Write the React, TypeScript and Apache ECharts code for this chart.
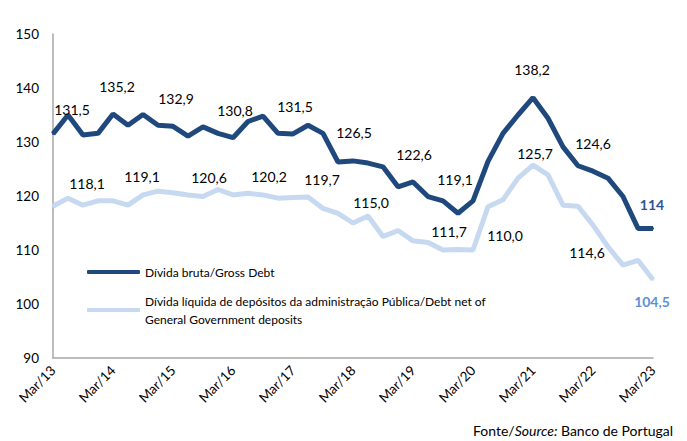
import React, { useEffect, useRef } from "react";
import * as echarts from "echarts";

const years = ["13", "14", "15", "16", "17", "18", "19", "20", "21", "22", "23"];
const months = ["Mar", "Jun", "Sep", "Dec"];
const categories: string[] = [];
years.forEach((y, yi) => {
  months.forEach((m) => {
    if (yi < years.length - 1 || m === "Mar") categories.push(`${m}/${y}`);
  });
});

const grossDebt = [
  131.5, 135.0, 131.3, 131.6, 135.2, 133.1, 135.1, 133.1, 132.9, 131.1, 132.8, 131.6,
  130.8, 133.8, 134.8, 131.6, 131.5, 133.1, 131.6, 126.3, 126.5, 126.1, 125.4, 121.7,
  122.6, 119.9, 119.1, 116.8, 119.1, 126.4, 131.6, 135.0, 138.2, 134.4, 129.1, 125.6,
  124.6, 123.3, 119.9, 114.0, 114.0,
];
const netDebt = [
  118.1, 119.6, 118.3, 119.1, 119.1, 118.3, 120.2, 120.9, 120.6, 120.2, 119.9, 121.2,
  120.2, 120.5, 120.2, 119.6, 119.7, 119.8, 117.7, 116.8, 115.0, 116.3, 112.5, 113.6,
  111.7, 111.4, 110.0, 110.1, 110.0, 118.0, 119.3, 123.3, 125.7, 123.9, 118.3, 118.1,
  114.6, 110.6, 107.2, 108.1, 104.5,
];
const yTicks = [90, 100, 110, 120, 130, 140, 150];

// label styling (offsets relative to each labelled point)
const grossLabelOffsets: Record<number, [number, number]> = {
  0: [19, -24], 4: [4, -27], 8: [3, -28], 12: [2, -27], 16: [2, -27], 20: [1, -28],
  24: [1, -27], 28: [-18, -21], 32: [-1, -28], 36: [0, -28], 40: [-1, -24],
};
const netLabelOffsets: Record<number, [number, number]> = {
  0: [34, -23], 4: [29, -24], 8: [36, -15], 12: [36, -18], 16: [29, -18], 20: [18, -21],
  24: [36, -9], 28: [32, -15], 32: [2, -12], 36: [-6, 27], 40: [-1, 22],
};

const FONT = "Lato, 'Open Sans', sans-serif";
const DARK = "#1F497D";
const LIGHT = "#C6D9F1";

const fmt = (v: number) => v.toFixed(1).replace(".", ",");

function buildData(
  values: number[],
  offsets: Record<number, [number, number]>,
  lastColor: string,
  lastText: (v: number) => string
) {
  return values.map((v, i) => {
    const off = offsets[i];
    if (!off) return v;
    const isLast = i === values.length - 1;
    return {
      value: v,
      label: {
        show: true,
        position: "inside",
        offset: off,
        formatter: isLast ? lastText(v) : fmt(v),
        color: isLast ? lastColor : "#000",
        fontWeight: isLast ? "bold" : "normal",
        fontSize: 14,
        fontFamily: FONT,
      },
    };
  });
}

export default function App() {
  const ref = useRef<HTMLDivElement>(null);
  useEffect(() => {
    if (!ref.current) return;
    const chart = echarts.init(ref.current, undefined, { renderer: "svg" });
    chart.setOption({
      animation: false,
      backgroundColor: "#fff",
      textStyle: { fontFamily: FONT },
      grid: { left: 53, right: 34, top: 34, bottom: 83, containLabel: false },
      legend: {
        left: 87,
        top: 263,
        padding: 0,
        orient: "vertical",
        icon: "roundRect",
        itemWidth: 53,
        itemHeight: 4,
        itemGap: 2,
        textStyle: { fontSize: 12, fontFamily: FONT, color: "#000", lineHeight: 18 },
        data: [
          { name: "Dívida bruta/Gross Debt" },
          {
            name:
              "Dívida líquida de depósitos da administração Pública/Debt net of\nGeneral Government deposits",
            textStyle: { padding: [18, 0, 0, 0] },
          },
        ],
      },
      xAxis: {
        type: "category",
        data: categories,
        boundaryGap: false,
        axisLine: { lineStyle: { color: "#A6A6A6", width: 1.5 } },
        axisTick: { show: false },
        axisLabel: {
          interval: 3,
          rotate: 45,
          margin: 10,
          fontSize: 13.5,
          color: "#000",
          fontFamily: FONT,
        },
        splitLine: { show: false },
      },
      yAxis: {
        type: "value",
        min: yTicks[0],
        max: yTicks[yTicks.length - 1],
        interval: 10,
        axisLine: { show: true, lineStyle: { color: "#A6A6A6", width: 1.5 } },
        axisTick: { show: false },
        axisLabel: { margin: 14, fontSize: 13.5, color: "#000", fontFamily: FONT },
        splitLine: { show: false },
      },
      graphic: [
        {
          type: "text",
          right: 14,
          top: 423,
          style: {
            text: "{a|Fonte/}{b|Source:}{a| Banco de Portugal}",
            rich: {
              a: { fontSize: 14, fontFamily: FONT, fill: "#000" },
              b: { fontSize: 14, fontFamily: FONT, fill: "#000", fontStyle: "italic" },
            },
          },
        },
      ],
      series: [
        {
          name:
            "Dívida líquida de depósitos da administração Pública/Debt net of\nGeneral Government deposits",
          type: "line",
          data: buildData(netDebt, netLabelOffsets, "#5B8FD9", fmt),
          color: LIGHT,
          symbol: "circle",
          symbolSize: 2,
          showSymbol: true,
          showAllSymbol: true,
          lineStyle: { width: 5, color: LIGHT },
          itemStyle: { color: LIGHT },
          z: 2,
        },
        {
          name: "Dívida bruta/Gross Debt",
          type: "line",
          data: buildData(grossDebt, grossLabelOffsets, "#2F5496", (v) => String(Math.round(v))),
          color: DARK,
          symbol: "circle",
          symbolSize: 2,
          showSymbol: true,
          showAllSymbol: true,
          lineStyle: { width: 5, color: DARK },
          itemStyle: { color: DARK },
          z: 3,
        },
      ],
    });
    return () => chart.dispose();
  }, []);
  return <div ref={ref} style={{ width: 687, height: 441, position: "absolute", left: 0, top: 0 }} />;
}
